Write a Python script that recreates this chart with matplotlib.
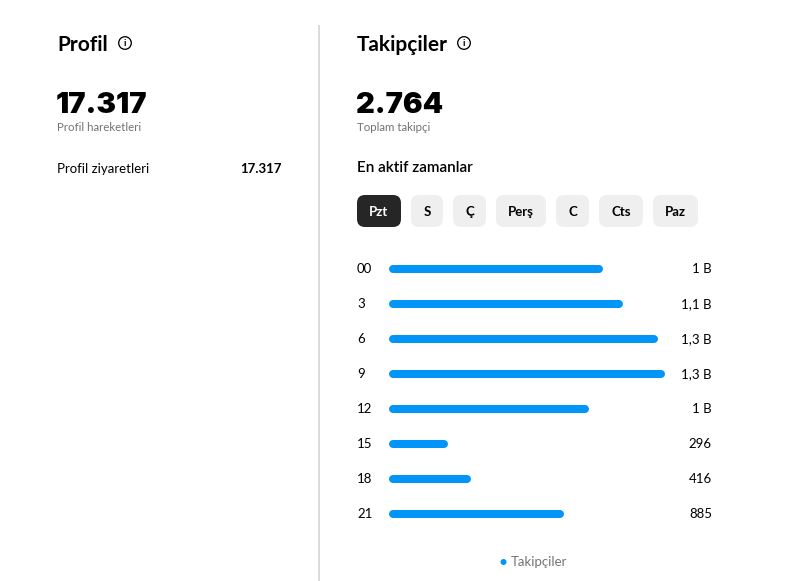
import numpy as np
import matplotlib
matplotlib.use("Agg")
import matplotlib.pyplot as plt
from matplotlib.patches import FancyBboxPatch, Circle

# data
hours = ["00", "3", "6", "9", "12", "15", "18", "21"]
followers = [1080, 1180, 1360, 1395, 1010, 296, 416, 885]
value_labels = ["1 B", "1,1 B", "1,3 B", "1,3 B", "1 B", "296", "416", "885"]
days = ["Pzt", "S", "Ç", "Perş", "C", "Cts", "Paz"]
profile_total = "17.317"
profile_visits = "17.317"
follower_total = "2.764"

FONT = "Lato"
BLUE = "#0095f6"
GREY = "#737373"
plt.rcParams['font.family'] = [FONT, 'DejaVu Sans']

W, H = 804, 581
fig = plt.figure(figsize=(W / 100, H / 100), dpi=100)

# background axes in pixel coordinates for the page layout
bg = fig.add_axes([0, 0, 1, 1])
bg.set_xlim(0, W)
bg.set_ylim(H, 0)
bg.axis("off")

def px(pt):
    return pt * 72 / 100

# divider
bg.plot([319.5, 319.5], [25, H], color="#dbdbdb", lw=px(2), solid_capstyle="butt")

def info_icon(x, y):
    bg.add_patch(Circle((x, y), 6.3, fill=False, ec="#000000", lw=px(1.3)))
    bg.text(x, y + 0.5, "i", ha="center", va="center", fontsize=7, fontweight="bold")

big = dict(fontsize=21, fontweight=900, family=["Inter", "DejaVu Sans"], va="baseline")

# left panel
bg.text(57, 51, "Profil", fontsize=15, fontweight="bold", va="baseline")
info_icon(125, 43)
bg.text(56, 113, profile_total, **big)
bg.text(57, 131, "Profil hareketleri", fontsize=8.3, color=GREY, va="baseline")
bg.text(57, 173, "Profil ziyaretleri", fontsize=9.5, va="baseline")
bg.text(282, 173, profile_visits, fontsize=9.5, fontweight="bold", va="baseline", ha="right")

# right panel
bg.text(357, 51, "Takipçiler", fontsize=15, fontweight="bold", va="baseline")
info_icon(464, 43)
bg.text(356, 113, follower_total, **big)
bg.text(357, 131, "Toplam takipçi", fontsize=8.3, color=GREY, va="baseline")
bg.text(357, 172, "En aktif zamanlar", fontsize=11, fontweight="semibold", va="baseline")

# day buttons
widths = [44, 32, 33, 50, 33, 44, 45]
x = 357
for i, (d, w) in enumerate(zip(days, widths)):
    sel = i == 0
    bg.add_patch(FancyBboxPatch((x, 195), w, 32, boxstyle="round,pad=0,rounding_size=8",
                                fc="#262626" if sel else "#efefef", ec="none"))
    bg.text(x + w / 2, 211.5, d, ha="center", va="center", fontsize=9.5, fontweight="bold",
            color="white" if sel else "black")
    x += w + 10

# legend
bg.add_patch(Circle((503.5, 562), 3, fc=BLUE, ec="none"))
bg.text(511, 566.5, "Takipçiler", fontsize=9.5, color=GREY, va="baseline")

# bar chart
scale = 5.05          # followers per pixel
aw = 330
top, bottom = 251.5, 531.5
ax = fig.add_axes([389 / W, (H - bottom) / H, aw / W, (bottom - top) / H])
ax.set_xlim(0, aw * scale)
ax.set_ylim(len(hours) - 0.5, -0.5)
ax.axis("off")
cap = 4 * scale
y = np.arange(len(hours))
vals = np.array(followers, dtype=float)
lc = ax.hlines(y, cap, vals - cap, color=BLUE, lw=px(8))
lc.set_capstyle("round")
tr = ax.get_yaxis_transform()
for yi, h, lab in zip(y, hours, value_labels):
    ax.text(-32 / aw, yi, h, transform=tr, ha="left", va="center", fontsize=9.5)
    ax.text(323 / aw, yi, lab, transform=tr, ha="right", va="center", fontsize=9.5)

fig.savefig("out.png", dpi=100, facecolor="white")
